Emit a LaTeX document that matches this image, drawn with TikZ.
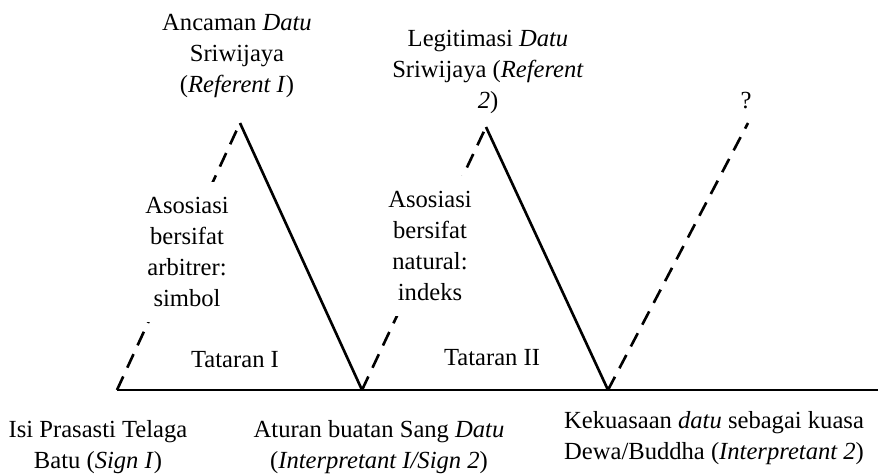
\documentclass[tikz,border=0pt]{standalone}
\usepackage{fontspec}
\setmainfont{Liberation Serif}
\usetikzlibrary{positioning}
\tikzset{
  kaki/.style={line width=1.5pt},
  kakiputus/.style={line width=1.5pt, dash pattern=on 8.5pt off 5.5pt},
  teks/.style={align=center, inner sep=0pt, font=\fontsize{14}{17.5}\selectfont},
  asosiasi/.style={teks, fill=white, inner xsep=4pt, inner ysep=9pt},
}

\begin{document}
\begin{tikzpicture}[x=0.02cm,y=-0.02cm]
  \useasboundingbox (0,0) rectangle (881,473);
  % titik sudut segitiga
  \coordinate (sign1) at (117,390);
  \coordinate (ref1) at (240,123);
  \coordinate (sign2) at (362,390);
  \coordinate (ref2) at (486,127);
  \coordinate (int2) at (608,390);
  \coordinate (ref3) at (748,123);
  \coordinate (ujung) at (878,390);
  % garis dasar
  \draw[line width=1.1pt] (sign1) -- (ujung);
  \draw[line width=1.6pt] (sign2) -- (int2);
  % tataran I, II dan seterusnya
  \draw[kakiputus] (sign1) -- (ref1);
  \draw[kaki] (ref1) -- (sign2);
  \draw[kakiputus] (sign2) -- (ref2);
  \draw[kaki] (ref2) -- (int2);
  \draw[kakiputus] (int2) -- (ref3);
  % label
  \node[teks] (referent1) at (237,56) {Ancaman \textit{Datu}\\Sriwijaya\\(\textit{Referent I})};
  \node[teks] (referent2) at (488,72) {Legitimasi \textit{Datu}\\Sriwijaya (\textit{Referent}\\\textit{2})};
  \node[teks] (tanya) at (746,101) {?};
  \node[asosiasi] (simbol) at (187,252) {Asosiasi\\bersifat\\arbitrer:\\simbol};
  \node[asosiasi] (indeks) at (430,246) {Asosiasi\\bersifat\\natural:\\indeks};
  \node[teks] (tataran1) at (235,360) {Tataran I};
  \node[teks] (tataran2) at (492,358) {Tataran II};
  \node[teks] (isi) at (98,447) {Isi Prasasti Telaga\\Batu (\textit{Sign I})};
  \node[teks] (aturan) at (379,447) {Aturan buatan Sang \textit{Datu}\\(\textit{Interpretant I/Sign 2})};
  \node[teks] (kuasa) at (714,438) {Kekuasaan \textit{datu} sebagai kuasa\\Dewa/Buddha (\textit{Interpretant 2})};
\end{tikzpicture}
\end{document}
